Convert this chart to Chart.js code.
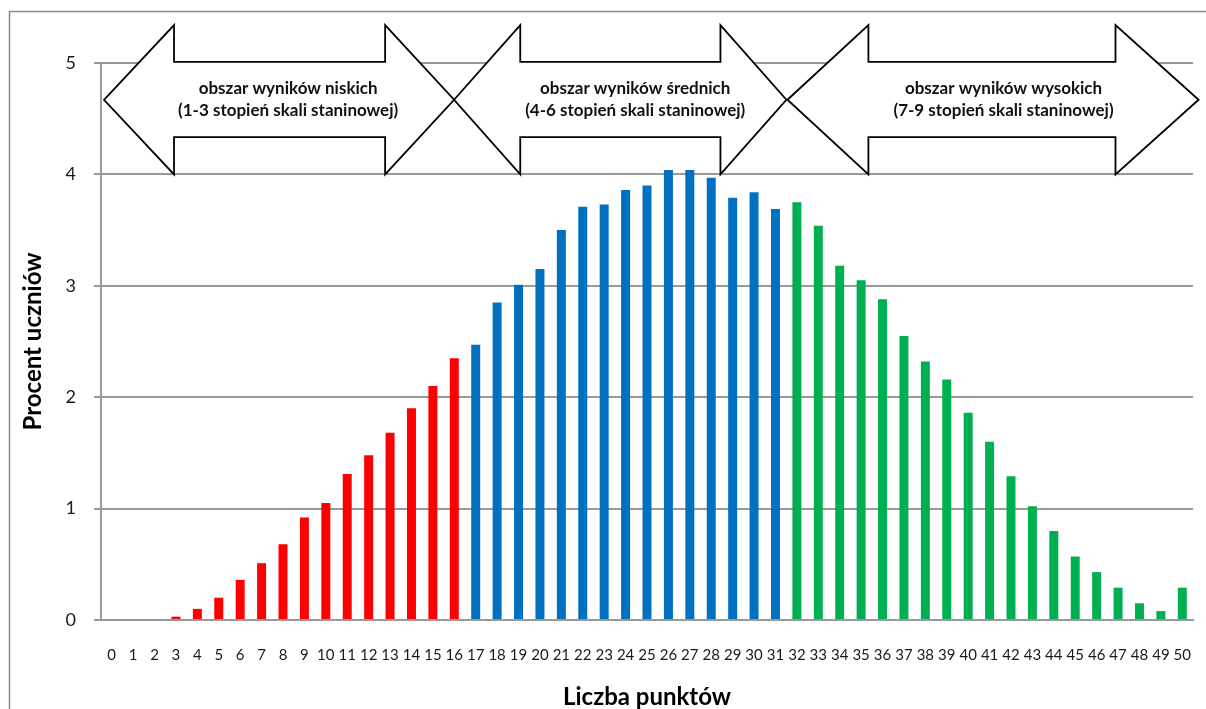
<!DOCTYPE html>
<html lang="pl">
<head>
<meta charset="utf-8">
<script src="https://cdn.jsdelivr.net/npm/chart.js@4.4.1/dist/chart.umd.min.js"></script>
<style>
  html, body { margin: 0; padding: 0; background: #fff; }
  #wrap { width: 1206px; height: 709px; }
</style>
</head>
<body>
<div id="wrap"><canvas id="wykres" width="1206" height="709"></canvas></div>
<script>
// liczba punktów (oś X)
const categories = [
  "0", "1", "2", "3", "4", "5", "6", "7", "8", "9",
  "10", "11", "12", "13", "14", "15", "16", "17", "18", "19",
  "20", "21", "22", "23", "24", "25", "26", "27", "28", "29",
  "30", "31", "32", "33", "34", "35", "36", "37", "38", "39",
  "40", "41", "42", "43", "44", "45", "46", "47", "48", "49", "50"
];

// procent uczniów - wyniki niskie (0-16 pkt)
const lowValues = [0, 0, 0, 0.03, 0.10, 0.20, 0.36, 0.51, 0.68, 0.92, 1.05, 1.31, 1.48, 1.68, 1.90, 2.10, 2.35];
// wyniki średnie (17-31 pkt)
const midValues = [2.47, 2.85, 3.01, 3.15, 3.50, 3.71, 3.73, 3.86, 3.90, 4.04, 4.04, 3.97, 3.79, 3.84, 3.69];
// wyniki wysokie (32-50 pkt)
const highValues = [3.75, 3.54, 3.18, 3.05, 2.88, 2.55, 2.32, 2.16, 1.86, 1.60, 1.29, 1.02, 0.80, 0.57, 0.43, 0.29, 0.15, 0.08, 0.29];

const yTicks = [0, 1, 2, 3, 4, 5];

// opisy strzałek
const arrowLabels = [
  ["obszar wyników niskich", "(1-3 stopień skali staninowej)"],
  ["obszar wyników średnich", "(4-6 stopień skali staninowej)"],
  ["obszar wyników wysokich", "(7-9 stopień skali staninowej)"]
];

// kolory grup
const groupColors = ["#FF0000", "#0070C0", "#00B050"];

// geometria strzałek w jednostkach osi (x: indeks kategorii, y: procent)
const arrowShapes = [
  { tipL: -0.36, baseL: 2.91, baseR: 12.77, tipR: 15.99, textX: 8.24 },
  { tipL: 15.99, baseL: 19.08, baseR: 28.43, tipR: 31.51, textX: 24.45 },
  { tipL: 31.56, baseL: 35.34, baseR: 46.88, tipR: 50.76, textX: 41.65 }
];
const arrowY = { top: 5.34, bodyTop: 5.01, mid: 4.67, bodyBot: 4.335, bot: 4.0 };

const FONT = "Lato, 'Open Sans', 'Liberation Sans', sans-serif";

const values = lowValues.concat(midValues, highValues);
const colors = []
  .concat(lowValues.map(() => groupColors[0]))
  .concat(midValues.map(() => groupColors[1]))
  .concat(highValues.map(() => groupColors[2]));

/** ramka wykresu (jak w Excelu) */
const framePlugin = {
  id: "frame",
  beforeDraw(chart) {
    const ctx = chart.ctx;
    ctx.save();
    ctx.strokeStyle = "#8a8a8a";
    ctx.lineWidth = 1.5;
    ctx.strokeRect(9.5, 11.5, chart.width + 20, chart.height + 20);
    ctx.restore();
  }
};

/** strzałki z opisami obszarów */
const arrowsPlugin = {
  id: "arrows",
  afterDraw(chart) {
    const ctx = chart.ctx;
    const xs = chart.scales.x;
    const ys = chart.scales.y;
    const px = (v) => xs.getPixelForValue(0) + v * (xs.getPixelForValue(1) - xs.getPixelForValue(0));
    const py = (v) => ys.getPixelForValue(v);

    ctx.save();
    arrowShapes.forEach((a, i) => {
      const yT = py(arrowY.top), yBT = py(arrowY.bodyTop), yM = py(arrowY.mid);
      const yBB = py(arrowY.bodyBot), yB = py(arrowY.bot);
      ctx.beginPath();
      ctx.moveTo(px(a.tipL), yM);
      ctx.lineTo(px(a.baseL), yT);
      ctx.lineTo(px(a.baseL), yBT);
      ctx.lineTo(px(a.baseR), yBT);
      ctx.lineTo(px(a.baseR), yT);
      ctx.lineTo(px(a.tipR), yM);
      ctx.lineTo(px(a.baseR), yB);
      ctx.lineTo(px(a.baseR), yBB);
      ctx.lineTo(px(a.baseL), yBB);
      ctx.lineTo(px(a.baseL), yB);
      ctx.closePath();
      ctx.fillStyle = "#ffffff";
      ctx.fill();
      ctx.strokeStyle = "#000000";
      ctx.lineWidth = 1.8;
      ctx.stroke();

      ctx.fillStyle = "#111";
      ctx.font = "bold 17px " + FONT;
      ctx.textAlign = "center";
      ctx.textBaseline = "middle";
      const tx = px(a.textX);
      ctx.fillText(arrowLabels[i][0], tx, yM - 11);
      ctx.fillText(arrowLabels[i][1], tx, yM + 11);
    });
    ctx.restore();
  }
};

const ctx = document.getElementById("wykres").getContext("2d");
new Chart(ctx, {
  type: "bar",
  data: {
    labels: categories,
    datasets: [{
      data: values,
      backgroundColor: colors,
      borderWidth: 0,
      categoryPercentage: 1.0,
      barPercentage: 0.42
    }]
  },
  options: {
    responsive: false,
    animation: false,
    layout: { padding: { top: 63, right: 13, bottom: 0, left: 0 } },
    plugins: {
      legend: { display: false },
      tooltip: { enabled: false }
    },
    scales: {
      x: {
        grid: { display: false, drawTicks: false },
        border: { display: true, color: "#999", width: 2 },
        ticks: {
          autoSkip: false,
          maxRotation: 0,
          padding: 26,
          color: "#1a1a1a",
          font: { family: FONT, size: 15 }
        },
        title: {
          display: true,
          text: "Liczba punktów",
          color: "#000",
          font: { family: FONT, size: 24, weight: "bold", lineHeight: 1.0 },
          padding: { top: 0, bottom: 0 }
        },
        afterFit(scale) {
          scale.height = 89;
          scale.paddingLeft = 0;
          scale.paddingRight = 0;
        }
      },
      y: {
        min: 0,
        max: 5,
        afterBuildTicks(scale) { scale.ticks = yTicks.map((v) => ({ value: v })); },
        grid: { color: "#999", lineWidth: 2, tickLength: 7, drawTicks: true },
        border: { display: true, color: "#999", width: 2 },
        ticks: {
          padding: 18,
          color: "#1a1a1a",
          font: { family: FONT, size: 18 }
        },
        title: {
          display: true,
          text: "Procent uczniów",
          color: "#000",
          font: { family: FONT, size: 24, weight: "bold", lineHeight: 1.0 },
          padding: { top: 21, bottom: 0 }
        },
        afterFit(scale) { scale.width = 101; }
      }
    }
  },
  plugins: [framePlugin, arrowsPlugin]
});
</script>
</body>
</html>
